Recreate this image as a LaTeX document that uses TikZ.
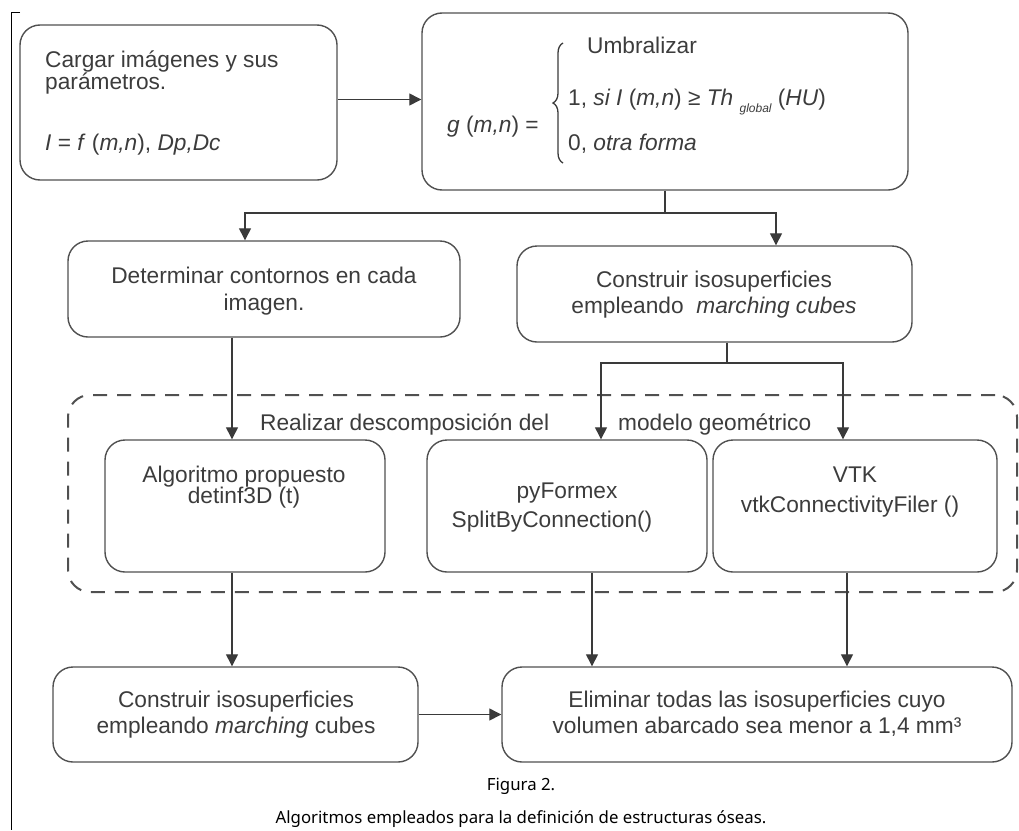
\documentclass[tikz,border=0pt]{standalone}
\usepackage{fontspec}
\setmainfont{Liberation Sans}
\newfontfamily\capfont{Noto Sans}
\usetikzlibrary{arrows.meta,decorations.pathreplacing}
\definecolor{boxc}{HTML}{505050}
\definecolor{linec}{HTML}{3A3A3A}
\definecolor{textc}{HTML}{3C3C3C}
\newcommand{\dfnt}{\fontsize{22.7}{22.7}\selectfont}
\begin{document}
\begin{tikzpicture}[x=1pt,y=-1pt,
  box/.style={draw=boxc, line width=1.4pt, rounded corners=20pt, inner sep=0pt},
  dashbox/.style={draw=boxc, line width=2pt, dash pattern=on 14pt off 10pt, rounded corners=22pt, inner sep=0pt},
  ln/.style={draw=linec, line width=1.3pt},
  arr/.style={draw=linec, line width=1.3pt, -{Triangle[length=12pt,width=12pt]}},
  txt/.style={font=\dfnt, text=textc, inner sep=0pt, anchor=base},
  captxt/.style={font=\capfont\fontsize{16.8}{16.8}\selectfont, text=black, inner sep=0pt, anchor=base}]
\useasboundingbox (0,0) rectangle (1019,830);

% left bracket
\draw[black, line width=1.3pt] (20,12.5) -- (11.5,12.5) -- (11.5,830);

% dashed zone
\node[dashbox, minimum width=949pt, minimum height=197pt] (dz) at (542.5,493.5) {};

% boxes
\node[box, minimum width=317pt, minimum height=155pt] (b1) at (178.5,102.5) {};
\node[box, minimum width=486pt, minimum height=177pt] (b2) at (665,101.5) {};
\node[box, minimum width=392pt, minimum height=96pt] (b3) at (264,289) {};
\node[box, minimum width=395pt, minimum height=96pt] (b4) at (714.5,294) {};
\node[box, minimum width=280pt, minimum height=132pt] (b5) at (245,506) {};
\node[box, minimum width=280pt, minimum height=132pt] (b6) at (567,506) {};
\node[box, minimum width=284pt, minimum height=132pt] (b7) at (855,506) {};
\node[box, minimum width=365pt, minimum height=95pt] (b8) at (235.5,714.5) {};
\node[box, minimum width=510pt, minimum height=95pt] (b9) at (757,714.5) {};

% texts box 1
\node[txt, anchor=base west] (t1a) at (45,67) {Cargar imágenes y sus};
\node[txt, anchor=base west] (t1b) at (45,89) {parámetros.};
\node[txt, anchor=base west] (t1c) at (45,150) {\textit{I} = \textit{f} (\textit{m,n}), \textit{Dp,Dc}};

% texts box 2
\node[txt] (t2a) at (642,53) {Umbralizar};
\node[txt, anchor=base west] (t2b) at (447,132) {\textit{g} (\textit{m,n}) =};
\node[txt, anchor=base west] (t2c) at (568,105) {1, \textit{si I} (\textit{m,n}) ≥ \textit{Th} \raisebox{-7pt}{\fontsize{12}{12}\selectfont\itshape global} (\textit{HU})};
\node[txt, anchor=base west] (t2d) at (568,150) {0, \textit{otra forma}};
\coordinate (brb) at (563,163);
\coordinate (brt) at (563,43);
\draw[linec, line width=1.3pt, decorate, decoration={brace, amplitude=10pt}] (brb) -- (brt);

% texts box 3, 4
\node[txt] (t3a) at (264,283) {Determinar contornos en cada};
\node[txt] (t3b) at (264,310) {imagen.};
\node[txt] (t4a) at (714,287) {Construir isosuperficies};
\node[txt] (t4b) at (714,313) {empleando \ \textit{marching cubes}};

% zone label
\node[txt, anchor=base west] (zl1) at (260,430) {Realizar descomposición del};
\node[txt, anchor=base west] (zl2) at (618,430) {modelo geométrico};

% texts box 5,6,7
\node[txt] (t5a) at (244,482) {Algoritmo propuesto};
\node[txt] (t5b) at (244,503) {detinf3D (t)};
\node[txt] (t6a) at (567,498) {pyFormex};
\node[txt] (t6b) at (552,527) {SplitByConnection()};
\node[txt] (t7a) at (855,482) {VTK};
\node[txt] (t7b) at (850,512) {vtkConnectivityFiler ()};

% texts box 8, 9
\node[txt] (t8a) at (236,707) {Construir isosuperficies};
\node[txt] (t8b) at (236,733) {empleando \textit{marching} cubes};
\node[txt] (t9a) at (757,707) {Eliminar todas las isosuperficies cuyo};
\node[txt] (t9b) at (757,733) {volumen abarcado sea menor a 1,4 mm³};

% connectors
\draw[arr] ([yshift=3pt]b1.east) -- ([yshift=3pt]b1.east -| b2.west);
\coordinate (j1) at (665,213);
\draw[ln] (b2.south) -- (j1);
\draw[arr] (j1) -| ([xshift=-19pt]b3.north);
\draw[arr] (j1) -| ([xshift=61.5pt]b4.north);
\coordinate (j2) at (727,363);
\draw[ln] (b4.south -| j2) -- (j2);
\draw[arr] (j2) -| ([xshift=34pt]b6.north);
\draw[arr] (j2) -| ([xshift=-12pt]b7.north);
\coordinate (cA) at (232,0);
\coordinate (cB) at (592,0);
\coordinate (cC) at (847,0);
\draw[arr] (b3.south -| cA) -- (b5.north -| cA);
\draw[arr] (b5.south -| cA) -- (b8.north -| cA);
\draw[arr] (b6.south -| cB) -- (b9.north -| cB);
\draw[arr] (b7.south -| cC) -- (b9.north -| cC);
\draw[arr] (b8.east) -- (b9.west);

% caption
\node[captxt] (c1) at (521,790) {Figura 2.};
\node[captxt] (c2) at (521,823) {Algoritmos empleados para la definición de estructuras óseas.};
\end{tikzpicture}
\end{document}
